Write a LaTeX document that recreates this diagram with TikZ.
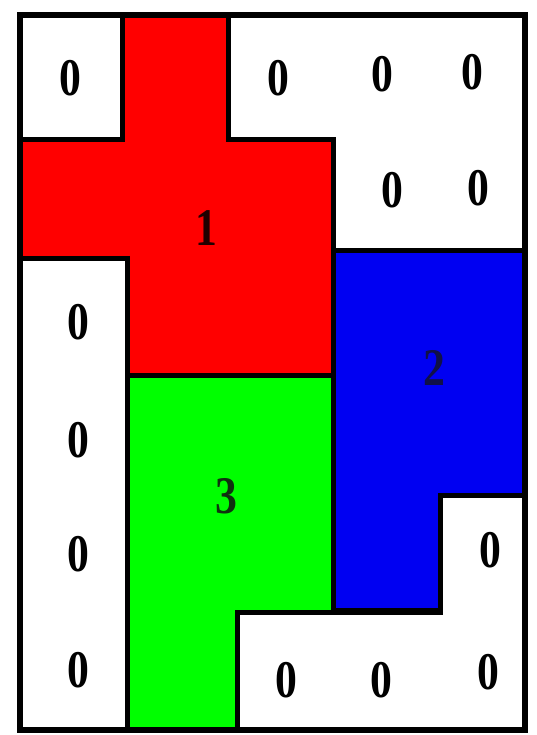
\documentclass[tikz,border=0pt]{standalone}
\usepackage{fontspec}
\usepackage{graphicx}
\setmainfont{Liberation Serif}
\definecolor{cred}{HTML}{FF0000}
\definecolor{cblue}{HTML}{0000F2}
\definecolor{cgreen}{HTML}{00FF00}
\definecolor{lone}{HTML}{200000}
\definecolor{ltwo}{HTML}{101048}
\definecolor{lthree}{HTML}{103010}
\newcommand{\dg}[1]{\scalebox{0.95}[1.15]{#1}}
\tikzset{
  region/.style={draw=black, line width=5pt, line join=miter},
  lbl/.style={font=\fontsize{46}{46}\selectfont\bfseries, inner sep=0pt},
}
\begin{document}
\begin{tikzpicture}[x=1pt,y=-1pt]
\useasboundingbox (0,0) rectangle (536,735);
\fill[white] (0,0) rectangle (536,735);
% white regions
\filldraw[region, fill=white] (20,15) -- (122,15) -- (122,140) -- (20,140) -- cycle;
\filldraw[region, fill=white] (228,15) -- (525,15) -- (525,250) -- (333,250) -- (333,140) -- (228,140) -- cycle;
\filldraw[region, fill=white] (20,258) -- (127,258) -- (127,730) -- (20,730) -- cycle;
\filldraw[region, fill=white] (237,612) -- (440,612) -- (440,495) -- (525,495) -- (525,730) -- (237,730) -- cycle;
% colored regions
\filldraw[region, fill=cred] (122,15) -- (228,15) -- (228,140) -- (333,140) -- (333,375) -- (127,375) -- (127,258) -- (20,258) -- (20,140) -- (122,140) -- cycle;
\filldraw[region, fill=cblue] (333,250) -- (525,250) -- (525,495) -- (440,495) -- (440,610) -- (333,610) -- cycle;
\filldraw[region, fill=cgreen] (127,375) -- (333,375) -- (333,612) -- (237,612) -- (237,730) -- (127,730) -- cycle;
% outer border
\draw[black, line width=6pt] (20,15) rectangle (525,730);
% labels
\node[lbl] (z1) at (70,78) {\dg{0}};
\node[lbl] (z2) at (278,78) {\dg{0}};
\node[lbl] (z3) at (382,74) {\dg{0}};
\node[lbl] (z4) at (472,72) {\dg{0}};
\node[lbl] (z5) at (392,190) {\dg{0}};
\node[lbl] (z6) at (478,188) {\dg{0}};
\node[lbl, text=lone] (one) at (206,228) {\dg{1}};
\node[lbl] (z7) at (78,322) {\dg{0}};
\node[lbl] (z8) at (78,440) {\dg{0}};
\node[lbl] (z9) at (78,554) {\dg{0}};
\node[lbl] (z10) at (78,670) {\dg{0}};
\node[lbl, text=ltwo] (two) at (434,368) {\dg{2}};
\node[lbl, text=lthree] (three) at (226,496) {\dg{3}};
\node[lbl] (z11) at (490,550) {\dg{0}};
\node[lbl] (z12) at (286,680) {\dg{0}};
\node[lbl] (z13) at (381,680) {\dg{0}};
\node[lbl] (z14) at (488,672) {\dg{0}};
\end{tikzpicture}
\end{document}
